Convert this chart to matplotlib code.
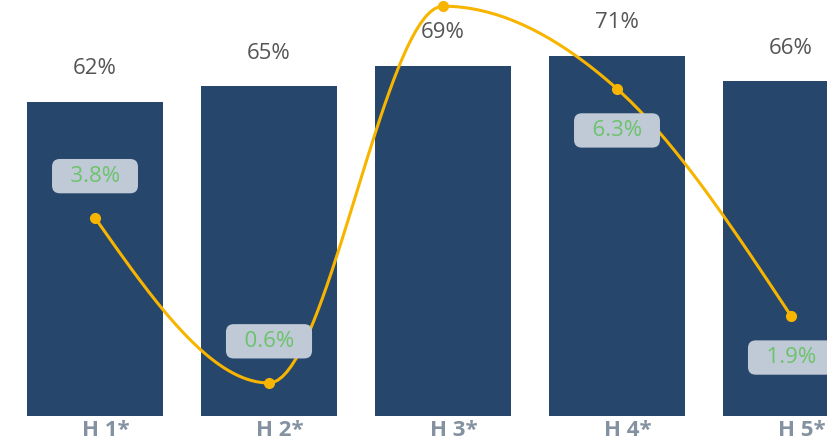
import matplotlib.pyplot as plt
import numpy as np

plt.rcParams["font.family"] = ["Open Sans", "DejaVu Sans"]

categories = ["H 1*", "H 2*", "H 3*", "H 4*", "H 5*"]
share = [62, 65, 69, 71, 66]          # bars, %
growth = [3.8, 0.6, 7.9, 6.3, 1.9]    # line, %
growth_labels = ["3.8%", "0.6%", "7.9%", "6.3%", "1.9%"]
label_side = [1, 1, 1, -1, -1]        # above / below the point

BAR_COLOR = "#26466b"
LINE_COLOR = "#f7b500"


def monotone_curve(x, y, n=40):
    # monotone cubic (d3 curveMonotoneX style) just for drawing the line
    x = np.asarray(x, float)
    y = np.asarray(y, float)
    h = np.diff(x)
    s = np.diff(y) / h
    m = np.zeros_like(y)
    for i in range(1, len(x) - 1):
        if s[i - 1] * s[i] <= 0:
            m[i] = 0
        else:
            p = (s[i - 1] * h[i] + s[i] * h[i - 1]) / (h[i - 1] + h[i])
            m[i] = (np.sign(s[i - 1]) + np.sign(s[i])) * min(
                abs(s[i - 1]), abs(s[i]), 0.5 * abs(p)
            )
    m[0] = (3 * s[0] - m[1]) / 2
    m[-1] = (3 * s[-1] - m[-2]) / 2
    xs, ys = [], []
    for i in range(len(x) - 1):
        t = np.linspace(0, 1, n)
        h00 = 2 * t**3 - 3 * t**2 + 1
        h10 = t**3 - 2 * t**2 + t
        h01 = -2 * t**3 + 3 * t**2
        h11 = t**3 - t**2
        xs.append(x[i] + t * h[i])
        ys.append(h00 * y[i] + h10 * h[i] * m[i] + h01 * y[i + 1] + h11 * h[i] * m[i + 1])
    return np.concatenate(xs), np.concatenate(ys)


fig = plt.figure(figsize=(8.28, 4.48), dpi=100)
ax = fig.add_axes([0, 32 / 448, 1, 416 / 448])
x = np.arange(len(categories))

bars = ax.bar(x, share, width=0.776, color=BAR_COLOR)
ax.set_xlim(-95 / 174, (828 - 95) / 174)
ax.set_ylim(0, 416 / 5.07)

for rect, v in zip(bars, share):
    ax.annotate(
        f"{v}%",
        (rect.get_x() + rect.get_width() / 2, rect.get_height()),
        xytext=(0, 24),
        textcoords="offset points",
        ha="center",
        va="center",
        fontsize=16,
        color="#555555",
    )

ax.set_xticks(x + 0.06)
ax.set_xticklabels(categories, fontsize=16, fontweight="bold", color="#8391a0")
ax.tick_params(axis="x", length=0, pad=3)
ax.set_yticks([])
for side in ax.spines.values():
    side.set_visible(False)

ax2 = ax.twinx()
ax2.set_ylim(-0.04, 8.02)
ax2.set_yticks([])
for side in ax2.spines.values():
    side.set_visible(False)

cx, cy = monotone_curve(x, growth)
ax2.plot(cx, cy, color=LINE_COLOR, linewidth=2.2, solid_capstyle="round")
ax2.plot(x, growth, "o", color=LINE_COLOR, markersize=7)

for xi, v, lab, side in zip(x, growth, growth_labels, label_side):
    # labels pushed off the top of the chart are not shown
    if side > 0 and v > 7:
        continue
    ax2.annotate(
        f"  {lab}  ",
        (xi, v),
        xytext=(0, 30 * side),
        textcoords="offset points",
        ha="center",
        va="center",
        fontsize=16,
        color="#6cc36c",
        bbox=dict(boxstyle="round,pad=0.3,rounding_size=0.35", fc="#c0c9d6", ec="none"),
    )

fig.savefig("out.png", dpi=100)
